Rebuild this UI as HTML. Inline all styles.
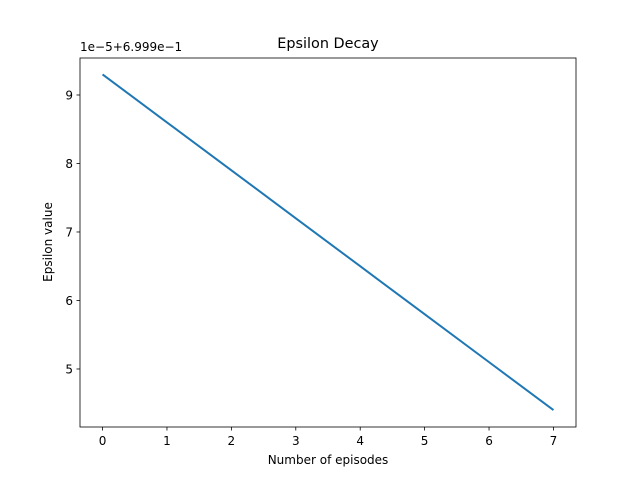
<!DOCTYPE html>
<html><head><meta charset="utf-8"><style>
body{margin:0;background:#fff;}
text{font-family:"DejaVu Sans","Liberation Sans",sans-serif;fill:#000;}
</style></head><body>
<svg id="chart" width="640" height="480" xmlns="http://www.w3.org/2000/svg">
<rect width="640" height="480" fill="#fff"/>
<text x="328" y="48" font-size="14.4" text-anchor="middle">Epsilon Decay</text>
<text x="328" y="464" font-size="12" text-anchor="middle">Number of episodes</text>
<text transform="translate(52,242) rotate(-90)" font-size="12" text-anchor="middle">Epsilon value</text>
<text x="80" y="51" font-size="12">1e−5+6.999e−1</text>
<g id="xt"></g>
<g id="yt"></g>
<polyline id="line" fill="none" stroke="#1f77b4" stroke-width="2"/>
<rect x="80" y="58" width="496" height="369" fill="none" stroke="#000" stroke-width="0.8"/>
</svg>
<script>
const episodes=[0,1,2,3,4,5,6,7];
const epsilon=[9.3,8.6,7.9,7.2,6.5,5.8,5.1,4.4];
const xTicks=[0,1,2,3,4,5,6,7];
const yTicks=[5,6,7,8,9];
const X0=80,X1=576,Y0=58,Y1=427;
const xMin=-0.35,xMax=7.35,yMin=4.153,yMax=9.54;
const sx=v=>X0+(v-xMin)/(xMax-xMin)*(X1-X0);
const sy=v=>Y1-(v-yMin)/(yMax-yMin)*(Y1-Y0);
const NS="http://www.w3.org/2000/svg";
const xt=document.getElementById('xt'),yt=document.getElementById('yt');
xTicks.forEach(t=>{
 const l=document.createElementNS(NS,'line');
 l.setAttribute('x1',sx(t));l.setAttribute('x2',sx(t));l.setAttribute('y1',Y1);l.setAttribute('y2',Y1+3.5);l.setAttribute('stroke','#000');l.setAttribute('stroke-width','0.8');
 
 
 xt.appendChild(l);
 const tx=document.createElementNS(NS,'text');
 tx.setAttribute('x',sx(t));tx.setAttribute('y',Y1+18);tx.setAttribute('font-size','12');tx.setAttribute('text-anchor','middle');tx.textContent=t;
 
 
 xt.appendChild(tx);
});
yTicks.forEach(t=>{
 const l=document.createElementNS(NS,'line');
 l.setAttribute('x1',X0-3.5);l.setAttribute('x2',X0);l.setAttribute('y1',sy(t));l.setAttribute('y2',sy(t));l.setAttribute('stroke','#000');l.setAttribute('stroke-width','0.8');
 
 
 yt.appendChild(l);
 const tx=document.createElementNS(NS,'text');
 tx.setAttribute('x',X0-7);tx.setAttribute('y',sy(t)+4.5);tx.setAttribute('font-size','12');tx.setAttribute('text-anchor','end');tx.textContent=t;
 
 
 yt.appendChild(tx);
});
document.getElementById('line').setAttribute('points',episodes.map((e,i)=>sx(e)+','+sy(epsilon[i])).join(' '));
</script>
</body></html>
